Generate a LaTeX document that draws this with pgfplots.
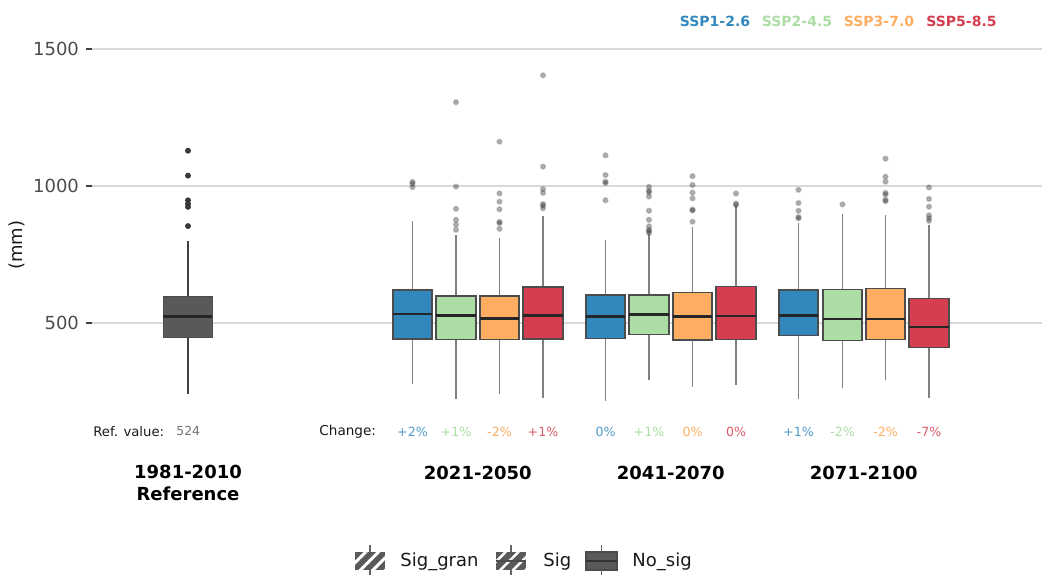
\documentclass[border=0pt]{standalone}
\usepackage{pgfplots}
\pgfplotsset{compat=1.18}
\usepgfplotslibrary{statistics}
\usetikzlibrary{patterns.meta}
\usepackage{fontspec}
\setmainfont{DejaVu Sans}
\definecolor{c1}{HTML}{3288BD}
\definecolor{c2}{HTML}{ABDDA4}
\definecolor{c3}{HTML}{FDAE61}
\definecolor{c4}{HTML}{D53E4F}
\definecolor{refc}{HTML}{595959}
\pgfplotsset{
  boxplot/draw direction=y,
  sbox/.style={
    draw=black!60, line width=0.8pt, solid,
    mark=*, mark size=1.2pt,
    mark options={draw=none, fill=black, opacity=0.3},
    boxplot/draw direction=y,
    boxplot/box extend=39.5,
    boxplot/whisker extend=0,
    boxplot/every box/.style={fill=#1, draw=black!70},
    boxplot/every whisker/.style={draw=black!50, line width=0.9pt},
    boxplot/every median/.style={draw=black!85, line width=1.3pt},
  },
}
\begin{document}
\begin{tikzpicture}
\path[use as bounding box] (0,0) rectangle (523pt,287pt);
\begin{axis}[
  at={(46pt,84.25pt)}, anchor=south west,
  scale only axis, width=475pt, height=179.45pt,
  xmin=92, xmax=1042, ymin=200, ymax=1510,
  axis line style={draw=none},
  xtick=\empty, ytick pos=left,
  ytick={500,1000,1500},
  ymajorgrids, grid style={draw=black!15, line width=1pt},
  tick align=outside, major tick length=3pt,
  every tick/.style={black!75, line width=1pt},
  yticklabel style={font=\fontsize{9}{10}\selectfont, text=black!70},
  /pgf/number format/assume math mode=true,
  /pgf/number format/1000 sep={},
  boxplot/draw direction=y,
  clip=false,
]
% Reference
\addplot[draw=black!80, line width=0.7pt, mark=*, mark size=1.1pt,
  mark options={draw=none, fill=black!75},
  boxplot/draw direction=y,
  boxplot/whisker extend=0,
  boxplot/every box/.style={fill=refc, draw=black!70},
  boxplot/every whisker/.style={draw=black!75},
  boxplot/every median/.style={draw=black!85, line width=1.3pt},
  boxplot prepared={draw position=188, box extend=49,
  median=524, upper quartile=598, lower quartile=448, upper whisker=802, lower whisker=243}]
  coordinates {(0,1130) (0,1039) (0,949) (0,936) (0,925) (0,855)};
% 2021-2050
\addplot[sbox=c1, boxplot prepared={draw position=412.5,
  median=534, upper quartile=622, lower quartile=443, upper whisker=874, lower whisker=280}]
  coordinates {(0,1016) (0,1010) (0,997)};
\addplot[sbox=c2, boxplot prepared={draw position=456,
  median=528, upper quartile=600, lower quartile=441, upper whisker=823, lower whisker=224}]
  coordinates {(0,1307) (0,999) (0,918) (0,878) (0,860) (0,841)};
\addplot[sbox=c3, boxplot prepared={draw position=499.5,
  median=517, upper quartile=600, lower quartile=441, upper whisker=813, lower whisker=243}]
  coordinates {(0,1163) (0,974) (0,944) (0,916) (0,870) (0,866) (0,845)};
\addplot[sbox=c4, boxplot prepared={draw position=543,
  median=529, upper quartile=632, lower quartile=443, upper whisker=890, lower whisker=228}]
  coordinates {(0,1405) (0,1072) (0,990) (0,976) (0,935) (0,930) (0,920)};
% 2041-2070
\addplot[sbox=c1, boxplot prepared={draw position=605.5,
  median=524, upper quartile=604, lower quartile=445, upper whisker=805, lower whisker=217}]
  coordinates {(0,1113) (0,1041) (0,1017) (0,1012) (0,949)};
\addplot[sbox=c2, boxplot prepared={draw position=649,
  median=532, upper quartile=604, lower quartile=459, upper whisker=827, lower whisker=293}]
  coordinates {(0,998) (0,984) (0,978) (0,963) (0,911) (0,878) (0,854) (0,841) (0,837) (0,830)};
\addplot[sbox=c3, boxplot prepared={draw position=692.5,
  median=524, upper quartile=612, lower quartile=439, upper whisker=850, lower whisker=268}]
  coordinates {(0,1037) (0,1005) (0,977) (0,956) (0,915) (0,912) (0,871)};
\addplot[sbox=c4, boxplot prepared={draw position=736,
  median=527, upper quartile=634, lower quartile=441, upper whisker=927, lower whisker=274}]
  coordinates {(0,974) (0,937) (0,932)};
% 2071-2100
\addplot[sbox=c1, boxplot prepared={draw position=798.5,
  median=528, upper quartile=622, lower quartile=456, upper whisker=866, lower whisker=222}]
  coordinates {(0,987) (0,939) (0,911) (0,888) (0,883)};
\addplot[sbox=c2, boxplot prepared={draw position=842.5,
  median=516, upper quartile=624, lower quartile=437, upper whisker=900, lower whisker=265}]
  coordinates {(0,934)};
\addplot[sbox=c3, boxplot prepared={draw position=885.5,
  median=515, upper quartile=627, lower quartile=441, upper whisker=895, lower whisker=293}]
  coordinates {(0,1101) (0,1035) (0,1017) (0,976) (0,970) (0,951) (0,946)};
\addplot[sbox=c4, boxplot prepared={draw position=929,
  median=487, upper quartile=591, lower quartile=412, upper whisker=860, lower whisker=226}]
  coordinates {(0,996) (0,954) (0,926) (0,894) (0,884) (0,874)};
\end{axis}
\begin{scope}[x=0.5pt, y=-0.5pt, yshift=287pt]
% top legend
\begin{scope}[every node/.style={font=\bfseries\fontsize{7}{8}\selectfont, inner sep=0pt}]
\node[text=c1] at (715,21.7) {SSP1-2.6};
\node[text=c2] at (797,21.7) {SSP2-4.5};
\node[text=c3] at (879,21.7) {SSP3-7.0};
\node[text=c4] at (961.5,21.7) {SSP5-8.5};
\end{scope}
% y label
\node[rotate=90, font=\fontsize{9}{10}\selectfont, text=black!90] at (17,245) {(mm)};
% annotations
\node[anchor=west, inner sep=0pt, font=\fontsize{6.6}{7}\selectfont, text=black!90] at (93,432) {Ref. value:};
\node[anchor=west, inner sep=0pt, font=\fontsize{6.2}{7}\selectfont, text=black!55] at (176,431) {524};
\node[anchor=west, inner sep=0pt, font=\fontsize{6.8}{7}\selectfont, text=black!90] at (319,432) {Change:};
\begin{scope}[every node/.style={font=\fontsize{6.3}{7}\selectfont, inner sep=0pt}]
\node[text=c1!85!white] at (412.5,432) {+2\%};
\node[text=c2] at (456,432) {+1\%};
\node[text=c3] at (499.5,432) {-2\%};
\node[text=c4!85!white] at (543,432) {+1\%};
\node[text=c1!85!white] at (605.5,432) {0\%};
\node[text=c2] at (649,432) {+1\%};
\node[text=c3] at (692.5,432) {0\%};
\node[text=c4!85!white] at (736,432) {0\%};
\node[text=c1!85!white] at (798.5,432) {+1\%};
\node[text=c2] at (842.5,432) {-2\%};
\node[text=c3] at (885.5,432) {-2\%};
\node[text=c4!85!white] at (929,432) {-7\%};
\end{scope}
% group labels
\begin{scope}[every node/.style={font=\bfseries\fontsize{9}{11}\selectfont, inner sep=0pt, align=center}]
\node at (188,483) {1981-2010\\Reference};
\node at (477.75,472.7) {2021-2050};
\node at (670.75,472.7) {2041-2070};
\node at (863.75,472.7) {2071-2100};
\end{scope}
% bottom legend
\fill[refc] (355,552) rectangle (385,570);
\fill[pattern={Lines[angle=45,distance=4.5pt,line width=1.5pt]}, pattern color=white] (355,552) rectangle (385,570);
\draw[black!60, line width=0.6pt] (370,545)--(370,552) (370,570)--(370,575);
\fill[refc] (496,552) rectangle (526,570);
\fill[pattern={Lines[angle=45,distance=4.5pt,line width=1.2pt]}, pattern color=white] (496,552) rectangle (526,570);
\draw[black!70, line width=0.6pt] (496,561)--(526,561);
\draw[black!60, line width=0.6pt] (511,545)--(511,552) (511,570)--(511,575);
\filldraw[fill=refc, draw=black!70, line width=0.6pt] (586,552) rectangle (617,570);
\draw[black!80, line width=0.9pt] (586,561)--(617,561);
\draw[black!60, line width=0.6pt] (601.5,545)--(601.5,552) (601.5,570)--(601.5,575);
\begin{scope}[every node/.style={font=\fontsize{9}{10}\selectfont, inner sep=0pt, anchor=west, text=black!90}]
\node at (400,562) {Sig\_gran};
\node at (543,562) {Sig};
\node at (632,562) {No\_sig};
\end{scope}
\end{scope}
\end{tikzpicture}
\end{document}
